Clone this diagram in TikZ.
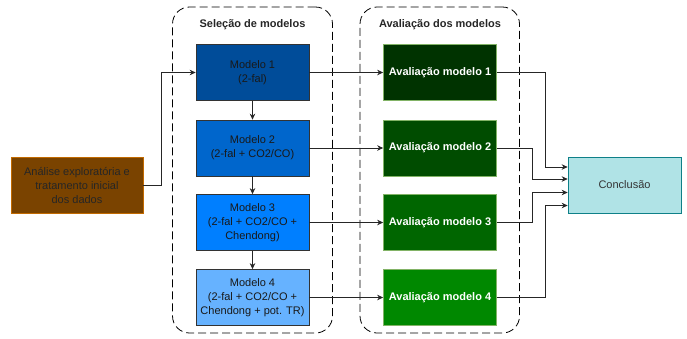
\documentclass[tikz,border=0pt]{standalone}
\usepackage{fontspec}
\setmainfont{Liberation Sans}
\usetikzlibrary{arrows.meta}

\definecolor{marrom}{HTML}{7A4300}
\definecolor{marromborda}{HTML}{C26A00}
\definecolor{azul1}{HTML}{004C99}
\definecolor{azul2}{HTML}{0066CC}
\definecolor{azul3}{HTML}{007FFF}
\definecolor{azul4}{HTML}{66B2FF}
\definecolor{verde1}{HTML}{003300}
\definecolor{verde2}{HTML}{004C00}
\definecolor{verde3}{HTML}{006600}
\definecolor{verde4}{HTML}{008800}
\definecolor{verdeborda}{HTML}{82B366}
\definecolor{ciano}{HTML}{B0E3E6}
\definecolor{cianoborda}{HTML}{0E8088}

\tikzset{
  caixa/.style={draw=#1, line width=0.7pt, minimum width=113pt, minimum height=56pt,
    align=center, inner sep=1pt, font=\fontsize{11}{14}\selectfont},
  modelo/.style={caixa=black!80, fill=#1, text=black!90},
  avaliacao/.style={caixa=verdeborda, fill=#1, text=white, font=\fontsize{11}{14}\selectfont\bfseries},
  grupo/.style={draw, line width=0.8pt, dash pattern=on 8pt off 4pt, rounded corners=17pt,
    minimum width=160pt, minimum height=326pt},
  titulo/.style={font=\fontsize{11}{14}\selectfont\bfseries, text=black!85},
  seta/.style={draw=black!85, line width=0.8pt, -{Stealth[length=6pt,width=5.5pt]}},
  linha/.style={draw=black!85, line width=0.8pt}
}

\begin{document}
\begin{tikzpicture}[x=1pt,y=-1pt]
  \useasboundingbox (0,0) rectangle (687,338);

  % grupos tracejados
  \node[grupo] (selecao) at (252.5,170) {};
  \node[grupo, minimum width=159.5pt] (grupoaval) at (439.75,170) {};
  \node[titulo] (tsel) at (252.5,25) {Seleção de modelos};
  \node[titulo] (taval) at (440,25) {Avaliação dos modelos};

  \node[caixa=marromborda, fill=marrom, text=black!85, minimum width=132pt] (analise) at (77,185)
    {Análise exploratória e\\tratamento inicial\\dos dados};

  \node[modelo=azul1] (modelo1) at (252.5,72.5) {Modelo 1\\(2-fal)};
  \node[modelo=azul2] (modelo2) at (252.5,148) {Modelo 2\\(2-fal + CO2/CO)};
  \node[modelo=azul3] (modelo3) at (252.5,222.5) {Modelo 3\\(2-fal + CO2/CO +\\Chendong)};
  \node[modelo=azul4] (modelo4) at (252.5,297.5) {Modelo 4\\(2-fal + CO2/CO +\\Chendong + pot. TR)};

  \node[avaliacao=verde1] (aval1) at (440,72.5) {Avaliação modelo 1};
  \node[avaliacao=verde2] (aval2) at (440,148) {Avaliação modelo 2};
  \node[avaliacao=verde3] (aval3) at (440,222.5) {Avaliação modelo 3};
  \node[avaliacao=verde4] (aval4) at (440,297.5) {Avaliação modelo 4};

  \node[caixa=cianoborda, fill=ciano, text=black!80] (conclusao) at (624.5,185) {Conclusão};

  \draw[seta] (analise.east) -- ++(18,0) |- (modelo1.west);
  \foreach \a/\b in {1/2,2/3,3/4}
    \draw[seta] (modelo\a.south) -- (modelo\b.north);
  \foreach \i in {1,...,4}
    \draw[seta] (modelo\i.east) -- (aval\i.west);

  \draw[seta] (aval1.east) -- ++(49,0) |- ([yshift=18pt]conclusao.west);
  \draw[seta] (aval2.east) -- ++(36,0) |- ([yshift=6pt]conclusao.west);
  \draw[seta] (aval3.east) -- ++(36,0) |- ([yshift=-7.5pt]conclusao.west);
  \draw[seta] (aval4.east) -- ++(49,0) |- ([yshift=-20.5pt]conclusao.west);
\end{tikzpicture}
\end{document}
